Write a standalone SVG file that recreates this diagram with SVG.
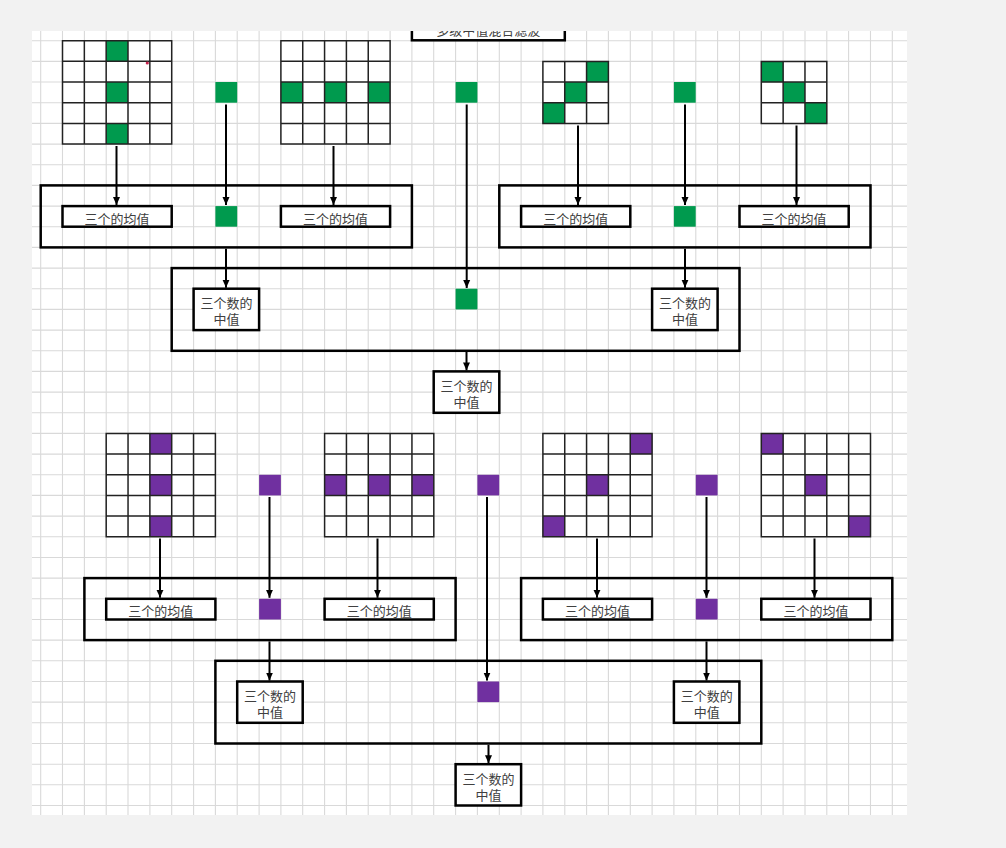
<svg xmlns="http://www.w3.org/2000/svg" xmlns:xlink="http://www.w3.org/1999/xlink" width="1006" height="848" viewBox="0 0 1006 848">
<style>
.sheet{fill:#ffffff}
.gl{stroke:#d9d9d9;stroke-width:1.1;fill:none}
.w{fill:#ffffff}
.lines{fill:none;stroke:#222222;stroke-width:1.5}
.g{fill:#009A4E}
.p{fill:#7030A0}
.box{fill:none;stroke:#000000;stroke-width:2.5}
.ibox{fill:#ffffff;stroke:#000000;stroke-width:2.5}
.t{font-family:"Noto Sans CJK SC","Noto Sans CJK JP",sans-serif;font-size:13px;fill:#404040;text-anchor:middle}
.c{stroke:#000000;stroke-width:2;fill:none;marker-end:url(#ah)}
</style>
<defs>
<marker id="ah" markerUnits="userSpaceOnUse" markerWidth="8" markerHeight="8" refX="8" refY="4" orient="auto">
<path d="M0 0.5L8 4L0 7.5Z" fill="#000000"/>
</marker>
<path id="g5lines" d="M0 0H109.2V103.4H0Z M21.84 0V103.4 M43.67 0V103.4 M65.5 0V103.4 M87.34 0V103.4 M0 20.67H109.2 M0 41.34H109.2 M0 62.01H109.2 M0 82.68H109.2"/>
<path id="g3lines" d="M0 0H65.5V62H0Z M21.84 0V62 M43.67 0V62 M0 20.67H65.5 M0 41.34H65.5"/>
<clipPath id="sheetclip"><rect x="32" y="31" width="875" height="784"/></clipPath>
</defs>
<rect x="0" y="0" width="1006" height="848" fill="#f2f2f2"/>
<g clip-path="url(#sheetclip)">
<rect class="sheet" x="32" y="31" width="875" height="784"/>
<path class="gl" d="M40.7 31V815M62.5 31V815M84.4 31V815M106.2 31V815M128 31V815M149.9 31V815M171.7 31V815M193.6 31V815M215.4 31V815M237.2 31V815M259.1 31V815M280.9 31V815M302.7 31V815M324.6 31V815M346.4 31V815M368.2 31V815M390.1 31V815M411.9 31V815M433.7 31V815M455.6 31V815M477.4 31V815M499.3 31V815M521.1 31V815M542.9 31V815M564.8 31V815M586.6 31V815M608.4 31V815M630.3 31V815M652.1 31V815M673.9 31V815M695.8 31V815M717.6 31V815M739.5 31V815M761.3 31V815M783.1 31V815M805 31V815M826.8 31V815M848.6 31V815M870.5 31V815M892.3 31V815"/>
<path class="gl" d="M32 40.7H907M32 61.4H907M32 82H907M32 102.7H907M32 123.4H907M32 144.1H907M32 164.7H907M32 185.4H907M32 206.1H907M32 226.7H907M32 247.4H907M32 268.1H907M32 288.7H907M32 309.4H907M32 330.1H907M32 350.8H907M32 371.4H907M32 392.1H907M32 412.8H907M32 433.4H907M32 454.1H907M32 474.8H907M32 495.4H907M32 516.1H907M32 536.8H907M32 557.5H907M32 578.1H907M32 598.8H907M32 619.5H907M32 640.1H907M32 660.8H907M32 681.5H907M32 702.1H907M32 722.8H907M32 743.5H907M32 764.2H907M32 784.8H907M32 805.5H907"/>
<g id="title">
<rect class="ibox" x="411.9" y="20" width="152.9" height="20.3"/>
<text class="t" x="488.3" y="35">多级中值混合滤波</text>
</g>
</g>

<!-- ===== Top (green) ===== -->
<g id="top-grid1" transform="translate(62.5,40.7)">
<rect class="w" width="109.2" height="103.4"/>
<rect class="g" x="43.67" y="0" width="21.84" height="20.67"/>
<rect class="g" x="43.67" y="41.34" width="21.84" height="20.67"/>
<rect class="g" x="43.67" y="82.68" width="21.84" height="20.67"/>
<use xlink:href="#g5lines" class="lines"/>
</g>
<circle cx="147.3" cy="63" r="1.6" fill="#c8234f"/>
<g id="top-sq1"><rect class="g" x="215.4" y="82" width="21.8" height="20.7"/></g>
<g id="top-grid2" transform="translate(280.9,40.7)">
<rect class="w" width="109.2" height="103.4"/>
<rect class="g" x="0" y="41.34" width="21.84" height="20.67"/>
<rect class="g" x="43.67" y="41.34" width="21.84" height="20.67"/>
<rect class="g" x="87.34" y="41.34" width="21.84" height="20.67"/>
<use xlink:href="#g5lines" class="lines"/>
</g>
<g id="top-sq2"><rect class="g" x="455.6" y="82" width="21.8" height="20.7"/></g>
<g id="top-grid3" transform="translate(542.9,61.4)">
<rect class="w" width="65.5" height="62"/>
<rect class="g" x="43.67" y="0" width="21.84" height="20.67"/>
<rect class="g" x="21.84" y="20.67" width="21.84" height="20.67"/>
<rect class="g" x="0" y="41.34" width="21.84" height="20.67"/>
<use xlink:href="#g3lines" class="lines"/>
</g>
<g id="top-sq3"><rect class="g" x="673.9" y="82" width="21.8" height="20.7"/></g>
<g id="top-grid4" transform="translate(761.3,61.4)">
<rect class="w" width="65.5" height="62"/>
<rect class="g" x="0" y="0" width="21.84" height="20.67"/>
<rect class="g" x="21.84" y="20.67" width="21.84" height="20.67"/>
<rect class="g" x="43.67" y="41.34" width="21.84" height="20.67"/>
<use xlink:href="#g3lines" class="lines"/>
</g>

<g id="top-l1-left">
<rect class="box" x="40.7" y="185.4" width="371.2" height="62"/>
<g id="top-mean1"><rect class="ibox" x="62.5" y="206.1" width="109.2" height="20.6"/><text class="t" x="117.1" y="223.5">三个的均值</text></g>
<g id="top-l1-sq1"><rect class="g" x="215.4" y="206.1" width="21.8" height="20.6"/></g>
<g id="top-mean2"><rect class="ibox" x="280.9" y="206.1" width="109.2" height="20.6"/><text class="t" x="335.5" y="223.5">三个的均值</text></g>
</g>
<g id="top-l1-right">
<rect class="box" x="499.3" y="185.4" width="371.2" height="62"/>
<g id="top-mean3"><rect class="ibox" x="521.1" y="206.1" width="109.2" height="20.6"/><text class="t" x="575.7" y="223.5">三个的均值</text></g>
<g id="top-l1-sq2"><rect class="g" x="673.9" y="206.1" width="21.8" height="20.6"/></g>
<g id="top-mean4"><rect class="ibox" x="739.5" y="206.1" width="109.2" height="20.6"/><text class="t" x="794.1" y="223.5">三个的均值</text></g>
</g>
<g id="top-l2">
<rect class="box" x="171.7" y="268.1" width="567.8" height="82.7"/>
<g id="top-med1"><rect class="ibox" x="193.6" y="288.7" width="65.5" height="41.4"/><text class="t" x="226.4" y="308.2">三个数的</text><text class="t" x="226.4" y="324.2">中值</text></g>
<g id="top-l2-sq"><rect class="g" x="455.6" y="288.7" width="21.8" height="20.7"/></g>
<g id="top-med2"><rect class="ibox" x="652.1" y="288.7" width="65.5" height="41.4"/><text class="t" x="684.9" y="308.2">三个数的</text><text class="t" x="684.9" y="324.2">中值</text></g>
</g>
<g id="top-final"><rect class="ibox" x="433.7" y="371.4" width="65.6" height="41.4"/><text class="t" x="466.5" y="390.9">三个数的</text><text class="t" x="466.5" y="406.9">中值</text></g>

<!-- ===== Bottom (purple) ===== -->
<g id="bot-grid1" transform="translate(106.2,433.4)">
<rect class="w" width="109.2" height="103.4"/>
<rect class="p" x="43.67" y="0" width="21.84" height="20.67"/>
<rect class="p" x="43.67" y="41.34" width="21.84" height="20.67"/>
<rect class="p" x="43.67" y="82.68" width="21.84" height="20.67"/>
<use xlink:href="#g5lines" class="lines"/>
</g>
<g id="bot-sq1"><rect class="p" x="259.1" y="474.8" width="21.8" height="20.6"/></g>
<g id="bot-grid2" transform="translate(324.6,433.4)">
<rect class="w" width="109.2" height="103.4"/>
<rect class="p" x="0" y="41.34" width="21.84" height="20.67"/>
<rect class="p" x="43.67" y="41.34" width="21.84" height="20.67"/>
<rect class="p" x="87.34" y="41.34" width="21.84" height="20.67"/>
<use xlink:href="#g5lines" class="lines"/>
</g>
<g id="bot-sq2"><rect class="p" x="477.4" y="474.8" width="21.8" height="20.6"/></g>
<g id="bot-grid3" transform="translate(542.9,433.4)">
<rect class="w" width="109.2" height="103.4"/>
<rect class="p" x="87.34" y="0" width="21.84" height="20.67"/>
<rect class="p" x="43.67" y="41.34" width="21.84" height="20.67"/>
<rect class="p" x="0" y="82.68" width="21.84" height="20.67"/>
<use xlink:href="#g5lines" class="lines"/>
</g>
<g id="bot-sq3"><rect class="p" x="695.8" y="474.8" width="21.8" height="20.6"/></g>
<g id="bot-grid4" transform="translate(761.3,433.4)">
<rect class="w" width="109.2" height="103.4"/>
<rect class="p" x="0" y="0" width="21.84" height="20.67"/>
<rect class="p" x="43.67" y="41.34" width="21.84" height="20.67"/>
<rect class="p" x="87.34" y="82.68" width="21.84" height="20.67"/>
<use xlink:href="#g5lines" class="lines"/>
</g>

<g id="bot-l1-left">
<rect class="box" x="84.4" y="578.1" width="371.2" height="62"/>
<g id="bot-mean1"><rect class="ibox" x="106.2" y="598.8" width="109.2" height="20.7"/><text class="t" x="160.8" y="616.3">三个的均值</text></g>
<g id="bot-l1-sq1"><rect class="p" x="259.1" y="598.8" width="21.8" height="20.7"/></g>
<g id="bot-mean2"><rect class="ibox" x="324.6" y="598.8" width="109.2" height="20.7"/><text class="t" x="379.2" y="616.3">三个的均值</text></g>
</g>
<g id="bot-l1-right">
<rect class="box" x="521.1" y="578.1" width="371.2" height="62"/>
<g id="bot-mean3"><rect class="ibox" x="542.9" y="598.8" width="109.2" height="20.7"/><text class="t" x="597.5" y="616.3">三个的均值</text></g>
<g id="bot-l1-sq2"><rect class="p" x="695.8" y="598.8" width="21.8" height="20.7"/></g>
<g id="bot-mean4"><rect class="ibox" x="761.3" y="598.8" width="109.2" height="20.7"/><text class="t" x="815.9" y="616.3">三个的均值</text></g>
</g>
<g id="bot-l2">
<rect class="box" x="215.4" y="660.8" width="545.9" height="82.7"/>
<g id="bot-med1"><rect class="ibox" x="237.2" y="681.5" width="65.5" height="41.3"/><text class="t" x="270" y="701">三个数的</text><text class="t" x="270" y="717">中值</text></g>
<g id="bot-l2-sq"><rect class="p" x="477.4" y="681.5" width="21.8" height="20.6"/></g>
<g id="bot-med2"><rect class="ibox" x="673.9" y="681.5" width="65.5" height="41.3"/><text class="t" x="706.7" y="701">三个数的</text><text class="t" x="706.7" y="717">中值</text></g>
</g>
<g id="bot-final"><rect class="ibox" x="455.6" y="764.2" width="65.5" height="41.3"/><text class="t" x="488.4" y="783.7">三个数的</text><text class="t" x="488.4" y="799.7">中值</text></g>

<g id="connectors">
<line class="c" x1="116.5" y1="146" x2="116.5" y2="205"/>
<line class="c" x1="226" y1="104.5" x2="226" y2="205"/>
<line class="c" x1="333.5" y1="146" x2="333.5" y2="205"/>
<line class="c" x1="466.7" y1="104.5" x2="466.7" y2="288"/>
<line class="c" x1="578" y1="125.5" x2="578" y2="205"/>
<line class="c" x1="685" y1="104.5" x2="685" y2="205"/>
<line class="c" x1="796.5" y1="125.5" x2="796.5" y2="205"/>
<line class="c" x1="226" y1="248.7" x2="226" y2="287.7"/>
<line class="c" x1="685" y1="248.7" x2="685" y2="287.7"/>
<line class="c" x1="466.5" y1="352" x2="466.5" y2="370.4"/>
<line class="c" x1="160" y1="538.5" x2="160" y2="597.8"/>
<line class="c" x1="269.5" y1="497" x2="269.5" y2="597.8"/>
<line class="c" x1="377.5" y1="538.5" x2="377.5" y2="597.8"/>
<line class="c" x1="487" y1="497" x2="487" y2="680.5"/>
<line class="c" x1="597" y1="538.5" x2="597" y2="597.8"/>
<line class="c" x1="706.5" y1="497" x2="706.5" y2="597.8"/>
<line class="c" x1="814.5" y1="538.5" x2="814.5" y2="597.8"/>
<line class="c" x1="269.5" y1="641.4" x2="269.5" y2="680.5"/>
<line class="c" x1="706.5" y1="641.4" x2="706.5" y2="680.5"/>
<line class="c" x1="488.5" y1="744.8" x2="488.5" y2="763.2"/>
</g>
</svg>
